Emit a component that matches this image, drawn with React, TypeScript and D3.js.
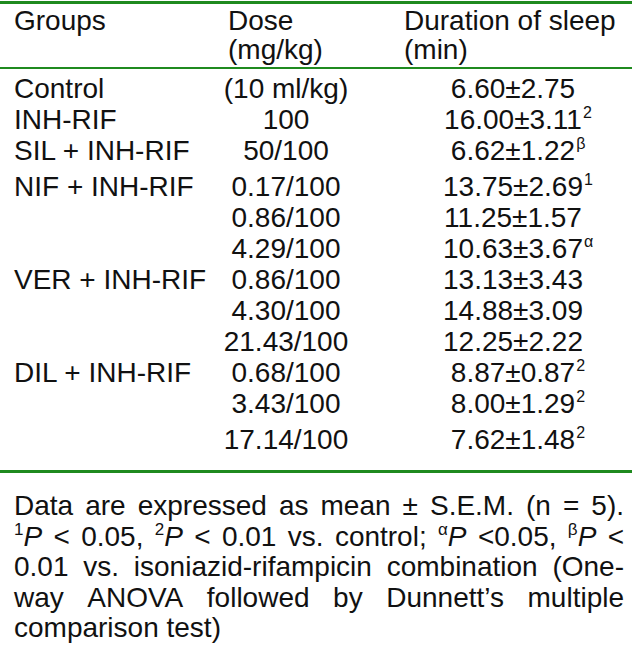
import React, { useEffect, useRef } from 'react';
import * as d3 from 'd3';

// table content
const groups = ['Control', 'INH-RIF', 'SIL + INH-RIF', 'NIF + INH-RIF', '', '', 'VER + INH-RIF', '', '', 'DIL + INH-RIF', '', ''];
const doses = ['(10 ml/kg)', '100', '50/100', '0.17/100', '0.86/100', '4.29/100', '0.86/100', '4.30/100', '21.43/100', '0.68/100', '3.43/100', '17.14/100'];
const means = [6.60, 16.00, 6.62, 13.75, 11.25, 10.63, 13.13, 14.88, 12.25, 8.87, 8.00, 7.62];
const sems = [2.75, 3.11, 1.22, 2.69, 1.57, 3.67, 3.43, 3.09, 2.22, 0.87, 1.29, 1.48];
const marks = ['', '2', 'β', '1', '', 'α', '', '', '', '2', '2', '2'];
const headers = [['Groups'], ['Dose', '(mg/kg)'], ['Duration of sleep', '(min)']];

// footnote, words split in segments: [text, style] with style '' | 'sup' | 'it'
type Seg = [string, string];
const footLines: Seg[][][] = [
  [[['Data', '']], [['are', '']], [['expressed', '']], [['as', '']], [['mean', '']], [['±', '']], [['S.E.M.', '']], [['(n', '']], [['=', '']], [['5).', '']]],
  [[['1', 'sup'], ['P', 'it']], [['<', '']], [['0.05,', '']], [['2', 'sup'], ['P', 'it']], [['<', '']], [['0.01', '']], [['vs.', '']], [['control;', '']], [['α', 'sup'], ['P', 'it']], [['<0.05,', '']], [['β', 'sup'], ['P', 'it']], [['<', '']]],
  [[['0.01', '']], [['vs.', '']], [['isoniazid-rifampicin', '']], [['combination', '']], [['(One-', '']]],
  [[['way', '']], [['ANOVA', '']], [['followed', '']], [['by', '']], [['Dunnett’s', '']], [['multiple', '']]],
  [[['comparison', '']], [['test)', '']]],
];

const W = 632;
const H = 651;
const green = '#1f8a1f';
const font = '"Liberation Sans", Arial, sans-serif';
const fs = 28;

export default function App() {
  const ref = useRef<SVGSVGElement>(null);

  useEffect(() => {
    document.body.style.margin = '0';
    const svg = d3.select(ref.current);
    svg.selectAll('*').remove();

    const left = 14;
    const doseX = 228;
    const doseC = 286;
    const durX = 404;
    const durC = 513;

    const y = d3.scaleLinear().domain([0, groups.length - 1]).range([98, 98 + 31 * (groups.length - 1)]);
    const rowY = (i: number) => y(i) + (i >= 3 ? 5 : 0) + (i >= 11 ? 5 : 0);

    const g = svg.append('g').attr('font-family', font).attr('font-size', fs).attr('fill', '#111');

    // rules
    svg.append('rect').attr('x', 0).attr('y', 1).attr('width', W).attr('height', 3).attr('fill', green);
    svg.append('rect').attr('x', 0).attr('y', 67).attr('width', W).attr('height', 2).attr('fill', green);
    svg.append('rect').attr('x', 0).attr('y', 470).attr('width', W).attr('height', 3).attr('fill', green);

    // headers
    const hx = [left, doseX, durX];
    headers.forEach((lines, c) => {
      lines.forEach((t, k) => {
        g.append('text').attr('x', hx[c]).attr('y', 30 + k * 29).text(t);
      });
    });

    // body
    groups.forEach((gr, i) => {
      const yy = rowY(i);
      if (gr) g.append('text').attr('x', left).attr('y', yy).text(gr);
      g.append('text').attr('x', doseC).attr('y', yy).attr('text-anchor', 'middle').text(doses[i]);
      const t = g.append('text').attr('x', durC).attr('y', yy).attr('text-anchor', 'middle')
        .text(`${d3.format('.2f')(means[i])}±${d3.format('.2f')(sems[i])}`);
      if (marks[i]) {
        const w = (t.node() as SVGTextElement).getComputedTextLength();
        g.append('text').attr('x', durC + w / 2 + 1).attr('y', yy - 11).attr('font-size', 16).text(marks[i]);
      }
    });

    // footnote, justified
    const fx0 = left;
    const fx1 = 624;
    footLines.forEach((words, li) => {
      const yy = 515 + li * 30.5;
      const nodes = words.map((segs) => {
        const t = g.append('text').attr('y', yy);
        segs.forEach(([s, st]) => {
          const sp = t.append('tspan').text(s);
          if (st === 'sup') sp.attr('font-size', 17).attr('baseline-shift', '11');
          if (st === 'it') sp.attr('font-style', 'italic');
        });
        return t;
      });
      const widths = nodes.map((n) => (n.node() as SVGTextElement).getComputedTextLength());
      const total = d3.sum(widths);
      const last = li === footLines.length - 1;
      const gap = last ? fs * 0.278 : (fx1 - fx0 - total) / (words.length - 1);
      let x = fx0;
      nodes.forEach((n, k) => {
        n.attr('x', x);
        x += widths[k] + gap;
      });
    });
  }, []);

  return <svg ref={ref} width={W} height={H} style={{ display: 'block', background: '#fff' }} />;
}
